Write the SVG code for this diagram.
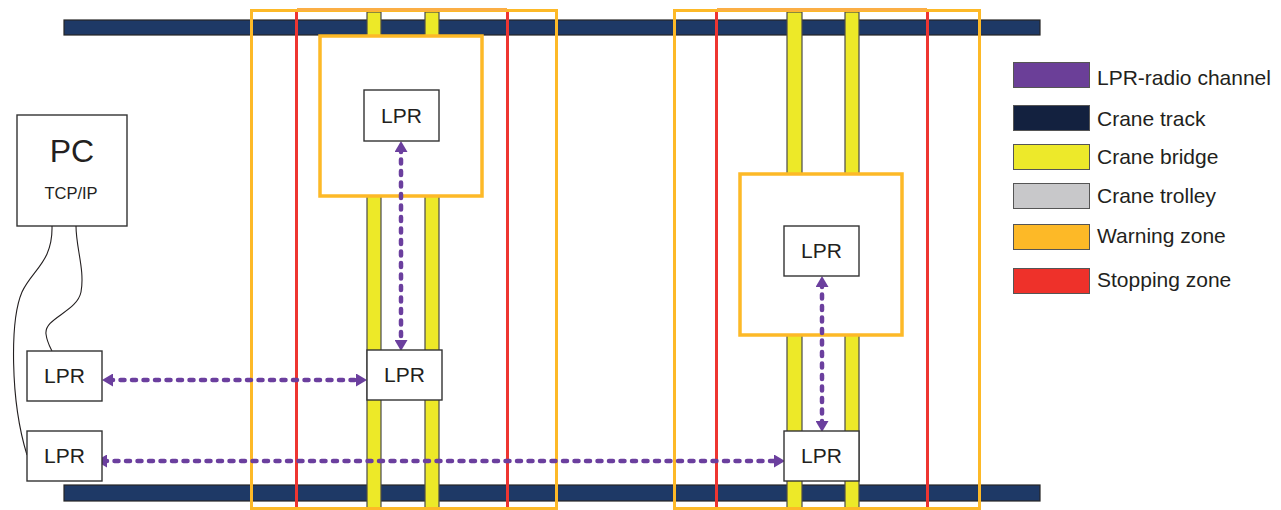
<svg xmlns="http://www.w3.org/2000/svg" width="1281" height="510" viewBox="0 0 1281 510">
<style>
.track{fill:#1E3966;stroke:#262626;stroke-width:1.2}
.bridge{fill:#EDE928;stroke:#4a4a4a;stroke-width:1.2}
.warn{fill:none;stroke:#FDB927;stroke-width:3}
.stop{fill:none;stroke:#EE3531;stroke-width:3}
.trolley{fill:#fff;stroke:#FDB927;stroke-width:3.5}
.box{fill:#fff;stroke:#333;stroke-width:1.4}
.t{font-family:"Liberation Sans",Arial,sans-serif;fill:#231F20;font-size:21px}
.radio{fill:none;stroke:#6B3F9E;stroke-width:4.5;stroke-linecap:round;stroke-dasharray:4 7.5}
.cable{fill:none;stroke:#231F20;stroke-width:1.1}
.sw{stroke:#555;stroke-width:1}
</style>
<defs>
<marker id="ah" viewBox="0 0 11 13" refX="4" refY="6.5" markerWidth="11" markerHeight="13" markerUnits="userSpaceOnUse" orient="auto-start-reverse">
<path d="M0,0 L11,6.5 L0,13 z" fill="#6B3F9E"/>
</marker>
</defs>
<rect width="1281" height="510" fill="#fff"/>

<g id="tracks">
<rect class="track" x="64" y="20" width="976" height="15"/>
<rect class="track" x="64" y="485" width="976" height="16"/>
</g>

<g id="crane1">
<rect class="bridge" x="367" y="12" width="14" height="505"/>
<rect class="bridge" x="425" y="12" width="14" height="505"/>
<rect class="stop" x="296.5" y="10.5" width="211" height="510"/>
<rect class="warn" x="251.5" y="10.5" width="305" height="498"/>
<line x1="297" y1="9.5" x2="507" y2="9.5" stroke="#FBAE45" stroke-width="3"/>
</g>
<g id="crane2">
<rect class="bridge" x="787" y="12" width="15" height="505"/>
<rect class="bridge" x="845" y="12" width="14" height="505"/>
<rect class="stop" x="716.5" y="10.5" width="211" height="510"/>
<rect class="warn" x="674.5" y="10.5" width="305" height="498"/>
<line x1="717" y1="9.5" x2="927" y2="9.5" stroke="#FBAE45" stroke-width="3"/>
</g>

<g id="trolley1">
<rect class="trolley" x="320" y="36" width="162" height="160"/>
</g>
<g id="trolley2">
<rect class="trolley" x="740" y="174" width="162" height="161"/>
</g>

<g id="pc">
<rect class="box" x="17" y="115" width="110" height="111"/>
<text class="t" x="72" y="162" text-anchor="middle" style="font-size:32px">PC</text>
<text class="t" x="71" y="199" text-anchor="middle" style="font-size:16.5px">TCP/IP</text>
</g>

<g id="connectors">
<path class="cable" d="M52,226 C53,262 32,270 22,292 C10,320 10,400 27,455"/>
<path class="cable" d="M76,226 C76,248 85,270 81,292 C77,312 44,318 46,334 C47,342 50,347 52,351"/>
<line class="radio" x1="109" y1="380" x2="360" y2="380" marker-start="url(#ah)" marker-end="url(#ah)"/>
<line class="radio" x1="103" y1="461" x2="778" y2="461" marker-start="url(#ah)" marker-end="url(#ah)"/>
<line class="radio" x1="401" y1="148" x2="401" y2="344" marker-start="url(#ah)" marker-end="url(#ah)"/>
<line class="radio" x1="822" y1="283" x2="822" y2="425" marker-start="url(#ah)" marker-end="url(#ah)"/>
</g>

<g id="lpr-t1">
<rect class="box" x="364" y="90" width="75" height="51"/>
<text class="t" x="401.5" y="123" text-anchor="middle">LPR</text>
</g>
<g id="lpr-b1">
<rect class="box" x="367" y="350" width="75" height="50"/>
<text class="t" x="404.5" y="382" text-anchor="middle">LPR</text>
</g>
<g id="lpr-t2">
<rect class="box" x="784" y="226" width="75" height="50"/>
<text class="t" x="821.5" y="258" text-anchor="middle">LPR</text>
</g>
<g id="lpr-b2">
<rect class="box" x="784" y="431" width="75" height="50"/>
<text class="t" x="821.5" y="463" text-anchor="middle">LPR</text>
</g>
<g id="lpr-pc1">
<rect class="box" x="27" y="351" width="75" height="50"/>
<text class="t" x="64.5" y="383" text-anchor="middle">LPR</text>
</g>
<g id="lpr-pc2">
<rect class="box" x="27" y="431" width="75" height="50"/>
<text class="t" x="64.5" y="463" text-anchor="middle">LPR</text>
</g>

<g id="legend">
<rect class="sw" x="1013.5" y="62.5" width="76" height="25" fill="#6B3F98"/>
<text class="t" x="1097" y="85">LPR-radio channel</text>
<rect class="sw" x="1013.5" y="105.5" width="76" height="25" fill="#13213F"/>
<text class="t" x="1097" y="126">Crane track</text>
<rect class="sw" x="1013.5" y="144.5" width="76" height="25" fill="#EDE92A"/>
<text class="t" x="1097" y="164">Crane bridge</text>
<rect class="sw" x="1013.5" y="183.5" width="76" height="25" fill="#C8C8CA"/>
<text class="t" x="1097" y="203">Crane trolley</text>
<rect class="sw" x="1013.5" y="224.5" width="76" height="25" fill="#FDB927"/>
<text class="t" x="1097" y="243">Warning zone</text>
<rect class="sw" x="1013.5" y="268.5" width="76" height="25" fill="#EE312A"/>
<text class="t" x="1097" y="287">Stopping zone</text>
</g>
</svg>
